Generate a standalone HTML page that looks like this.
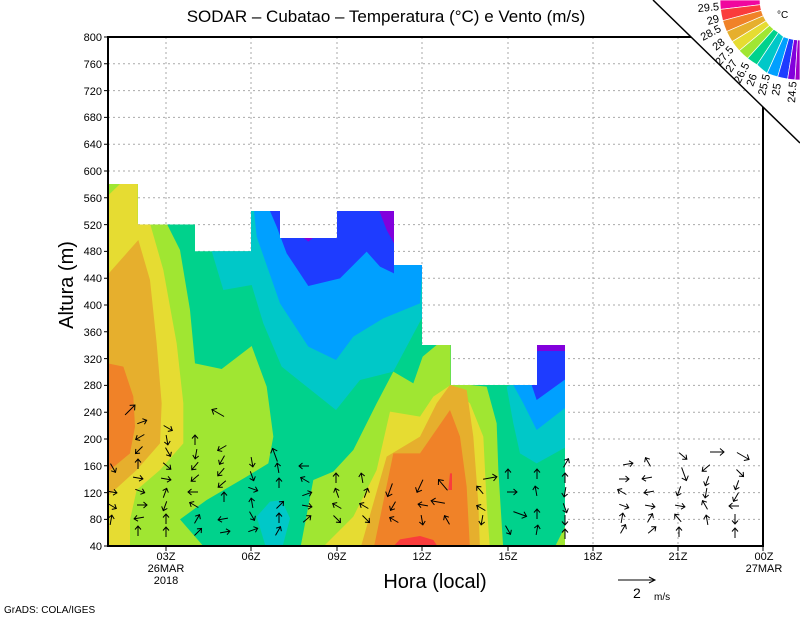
<!DOCTYPE html>
<html><head><meta charset="utf-8"><style>
html,body{margin:0;padding:0;background:#fff}
svg{display:block}
text{font-family:"Liberation Sans",sans-serif}
</style></head><body>
<svg width="800" height="618" viewBox="0 0 800 618" xmlns="http://www.w3.org/2000/svg">
<defs>
<clipPath id="data"><path d="M109,184 H138 V224.5 H195 V251.3 H251 V211 H280 V238 H337 V211 H394 V265 H422 V345 H451 V385 H537 V345 H565 V546 H109 Z"/></clipPath>
<g id="a"><path d="M-5,0 H5 M1.5,-3 L5,0 L1.5,3" fill="none" stroke="#000" stroke-width="1"/></g>
<g id="b"><path d="M-7,0 H7 M3,-3.5 L7,0 L3,3.5" fill="none" stroke="#000" stroke-width="1"/></g>
</defs>

<!-- grid -->
<g stroke="#aaa" stroke-width="1" stroke-dasharray="2,3">
<path d="M108,63.8H763M108,90.6H763M108,117.4H763M108,144.2H763M108,171H763M108,197.8H763M108,224.6H763M108,251.4H763M108,278.2H763M108,305H763M108,331.8H763M108,358.6H763M108,385.4H763M108,412.2H763M108,439H763M108,465.8H763M108,492.6H763M108,519.4H763"/>
<path d="M166,37V546M251,37V546M337,37V546M422,37V546M508,37V546M593,37V546M678,37V546"/>
</g>

<!-- shaded field -->
<g clip-path="url(#data)">
<rect x="100" y="170" width="480" height="380" fill="#00d28c"/>
<g transform="translate(100,170) scale(0.33333)">
<!-- yellow-green left -->
<polygon fill="#a0e632" points="0,0 200,0 200,160 240,240 270,420 285,580 365,597 455,528 500,650 520,800 505,880 440,920 320,990 240,1048 320,1140 0,1140"/>
<!-- yellow-green middle-right -->
<polygon fill="#a0e632" points="600,1140 640,930 700,905 760,840 830,700 880,605 940,640 968,560 1010,525 1052,525 1052,645 1110,645 1160,650 1190,760 1195,900 1210,1140"/>
<polygon fill="#a0e632" points="1360,1140 1400,1060 1400,1140"/>
<!-- yellow left -->
<polygon fill="#e6dc32" points="0,100 60,42 113,42 113,160 150,160 190,300 230,520 250,700 250,820 180,900 110,960 90,1050 90,1140 0,1140"/>
<!-- light orange left -->
<polygon fill="#e6af2d" points="0,340 115,210 150,330 170,520 185,700 180,820 110,900 0,1000"/>
<!-- orange left -->
<polygon fill="#f08228" points="0,575 70,590 100,680 105,770 90,850 30,900 0,910"/>
<!-- yellow mid-right -->
<polygon fill="#e6dc32" points="660,1140 760,1040 830,900 870,725 960,740 1000,680 1052,645 1110,700 1150,800 1160,1000 1170,1140"/>
<polygon fill="#e6af2d" points="780,1140 860,860 960,800 1010,700 1050,645 1100,660 1120,800 1135,1000 1140,1140"/>
<polygon fill="#f08228" points="820,1140 880,850 960,850 1050,720 1080,800 1100,950 1110,1140"/>
<polygon fill="#fa3c3c" points="870,1140 900,1108 960,1098 1000,1110 1020,1140"/>
<polygon fill="#fa3c3c" points="1045,960 1050,910 1056,910 1056,960"/>
<!-- cyan pocket bottom -->
<polygon fill="#00c8c8" points="470,1040 510,995 545,990 570,1045 545,1140 500,1140"/>
<!-- cool top middle -->
<polygon fill="#00c8c8" points="335,243 453,243 453,123 882,123 882,285 968,285 968,440 880,605 780,630 708,720 620,650 545,590 490,460 455,345 370,360"/>
<polygon fill="#00a0ff" points="462,123 882,123 882,285 968,285 960,400 850,445 760,500 708,570 625,530 540,400 470,200"/>
<polygon fill="#1e3cff" points="510,123 540,123 540,203 708,203 708,123 882,123 882,310 840,290 800,245 720,325 625,348 560,250 530,170"/>
<polygon fill="#8200dc" points="838,123 882,123 882,220 860,180"/>
<polygon fill="#8200dc" points="610,203 640,203 625,215"/>
<!-- right column -->
<polygon fill="#00c8c8" points="1230,645 1308,645 1308,525 1400,525 1400,830 1310,880 1260,850 1240,760 1220,650"/>
<polygon fill="#00a0ff" points="1240,645 1308,645 1308,525 1400,525 1400,710 1310,780 1270,700"/>
<polygon fill="#1e3cff" points="1295,645 1308,645 1308,525 1400,525 1400,625 1310,690"/>
<polygon fill="#8200dc" points="1308,525 1400,525 1400,543 1308,543"/>
</g>
</g>

<!-- wind arrows -->
<g>
<use href="#b" transform="translate(130,410) rotate(-45)"/>
<use href="#a" transform="translate(142,422) rotate(-20)"/>
<use href="#a" transform="translate(140,437) rotate(150)"/>
<use href="#a" transform="translate(139,450) rotate(135)"/>
<use href="#a" transform="translate(138,464) rotate(-90)"/>
<use href="#a" transform="translate(138,478) rotate(10)"/>
<use href="#a" transform="translate(140,491) rotate(20)"/>
<use href="#a" transform="translate(142,505) rotate(0)"/>
<use href="#a" transform="translate(139,518) rotate(170)"/>
<use href="#a" transform="translate(138,531) rotate(-90)"/>
<use href="#a" transform="translate(113,468) rotate(60)"/>
<use href="#a" transform="translate(112,492) rotate(10)"/>
<use href="#a" transform="translate(112,506) rotate(30)"/>
<use href="#a" transform="translate(111,520) rotate(-80)"/>
<use href="#a" transform="translate(168,428) rotate(30)"/>
<use href="#a" transform="translate(167,440) rotate(80)"/>
<use href="#a" transform="translate(168,452) rotate(60)"/>
<use href="#a" transform="translate(167,466) rotate(40)"/>
<use href="#a" transform="translate(166,479) rotate(10)"/>
<use href="#a" transform="translate(165,493) rotate(-70)"/>
<use href="#a" transform="translate(165,506) rotate(110)"/>
<use href="#a" transform="translate(166,519) rotate(-90)"/>
<use href="#a" transform="translate(166,532) rotate(-90)"/>
<use href="#b" transform="translate(218,413) rotate(-150)"/>
<use href="#a" transform="translate(195,440) rotate(-90)"/>
<use href="#a" transform="translate(222,448) rotate(150)"/>
<use href="#a" transform="translate(196,454) rotate(100)"/>
<use href="#a" transform="translate(195,466) rotate(130)"/>
<use href="#a" transform="translate(195,478) rotate(140)"/>
<use href="#a" transform="translate(193,492) rotate(180)"/>
<use href="#a" transform="translate(194,505) rotate(-150)"/>
<use href="#a" transform="translate(197,519) rotate(-60)"/>
<use href="#a" transform="translate(198,532) rotate(-45)"/>
<use href="#a" transform="translate(222,460) rotate(120)"/>
<use href="#a" transform="translate(221,472) rotate(130)"/>
<use href="#a" transform="translate(222,484) rotate(140)"/>
<use href="#a" transform="translate(224,497) rotate(-90)"/>
<use href="#a" transform="translate(223,519) rotate(170)"/>
<use href="#a" transform="translate(225,532) rotate(-10)"/>
<use href="#a" transform="translate(252,462) rotate(80)"/>
<use href="#a" transform="translate(252,476) rotate(70)"/>
<use href="#a" transform="translate(253,489) rotate(20)"/>
<use href="#a" transform="translate(252,503) rotate(-100)"/>
<use href="#a" transform="translate(252,516) rotate(60)"/>
<use href="#a" transform="translate(253,530) rotate(-20)"/>
<use href="#b" transform="translate(275,455) rotate(-110)"/>
<use href="#a" transform="translate(278,468) rotate(-100)"/>
<use href="#a" transform="translate(279,483) rotate(-90)"/>
<use href="#a" transform="translate(280,505) rotate(-45)"/>
<use href="#a" transform="translate(279,518) rotate(-90)"/>
<use href="#a" transform="translate(278,531) rotate(-60)"/>
<use href="#a" transform="translate(304,466) rotate(180)"/>
<use href="#a" transform="translate(305,480) rotate(-150)"/>
<use href="#a" transform="translate(307,494) rotate(-20)"/>
<use href="#a" transform="translate(307,506) rotate(10)"/>
<use href="#a" transform="translate(307,519) rotate(-40)"/>
<use href="#a" transform="translate(336,478) rotate(-90)"/>
<use href="#a" transform="translate(337,493) rotate(-110)"/>
<use href="#a" transform="translate(337,506) rotate(-150)"/>
<use href="#a" transform="translate(337,519) rotate(45)"/>
<use href="#a" transform="translate(362,478) rotate(-100)"/>
<use href="#a" transform="translate(366,493) rotate(-70)"/>
<use href="#a" transform="translate(364,506) rotate(-150)"/>
<use href="#a" transform="translate(366,519) rotate(45)"/>
<use href="#b" transform="translate(390,490) rotate(110)"/>
<use href="#a" transform="translate(393,506) rotate(120)"/>
<use href="#a" transform="translate(394,520) rotate(-150)"/>
<use href="#b" transform="translate(420,486) rotate(115)"/>
<use href="#a" transform="translate(423,505) rotate(-170)"/>
<use href="#a" transform="translate(422,520) rotate(80)"/>
<use href="#b" transform="translate(443,485) rotate(-130)"/>
<use href="#b" transform="translate(438,502) rotate(-170)"/>
<use href="#a" transform="translate(447,520) rotate(-120)"/>
<use href="#b" transform="translate(490,478) rotate(-10)"/>
<use href="#a" transform="translate(480,490) rotate(-130)"/>
<use href="#a" transform="translate(481,508) rotate(-150)"/>
<use href="#a" transform="translate(482,520) rotate(100)"/>
<use href="#a" transform="translate(508,474) rotate(-90)"/>
<use href="#a" transform="translate(512,492) rotate(0)"/>
<use href="#b" transform="translate(520,514) rotate(20)"/>
<use href="#a" transform="translate(508,530) rotate(60)"/>
<use href="#a" transform="translate(537,474) rotate(-90)"/>
<use href="#a" transform="translate(536,491) rotate(-100)"/>
<use href="#a" transform="translate(537,514) rotate(-90)"/>
<use href="#a" transform="translate(537,530) rotate(-80)"/>
<use href="#a" transform="translate(566,463) rotate(-60)"/>
<use href="#a" transform="translate(565,478) rotate(-90)"/>
<use href="#a" transform="translate(565,492) rotate(100)"/>
<use href="#a" transform="translate(565,508) rotate(70)"/>
<use href="#a" transform="translate(565,520) rotate(90)"/>
<use href="#a" transform="translate(565,534) rotate(-90)"/>
<use href="#a" transform="translate(628,464) rotate(-10)"/>
<use href="#a" transform="translate(624,479) rotate(0)"/>
<use href="#a" transform="translate(622,492) rotate(-150)"/>
<use href="#a" transform="translate(624,506) rotate(20)"/>
<use href="#a" transform="translate(622,518) rotate(-80)"/>
<use href="#a" transform="translate(623,529) rotate(-60)"/>
<use href="#a" transform="translate(648,462) rotate(-120)"/>
<use href="#a" transform="translate(647,478) rotate(170)"/>
<use href="#a" transform="translate(649,492) rotate(170)"/>
<use href="#a" transform="translate(650,506) rotate(10)"/>
<use href="#a" transform="translate(650,518) rotate(-60)"/>
<use href="#a" transform="translate(652,530) rotate(-40)"/>
<use href="#a" transform="translate(683,456) rotate(40)"/>
<use href="#b" transform="translate(684,474) rotate(70)"/>
<use href="#a" transform="translate(679,491) rotate(110)"/>
<use href="#a" transform="translate(680,506) rotate(10)"/>
<use href="#a" transform="translate(678,518) rotate(-130)"/>
<use href="#a" transform="translate(679,532) rotate(-90)"/>
<use href="#b" transform="translate(717,452) rotate(0)"/>
<use href="#a" transform="translate(706,468) rotate(140)"/>
<use href="#a" transform="translate(707,481) rotate(110)"/>
<use href="#a" transform="translate(706,493) rotate(100)"/>
<use href="#a" transform="translate(705,505) rotate(-120)"/>
<use href="#a" transform="translate(707,520) rotate(-100)"/>
<use href="#b" transform="translate(743,456) rotate(30)"/>
<use href="#a" transform="translate(740,473) rotate(45)"/>
<use href="#a" transform="translate(737,485) rotate(110)"/>
<use href="#a" transform="translate(736,497) rotate(120)"/>
<use href="#a" transform="translate(734,506) rotate(180)"/>
<use href="#a" transform="translate(735,519) rotate(90)"/>
<use href="#a" transform="translate(735,533) rotate(-90)"/>
</g>

<!-- frame -->
<path d="M108,37 H763 V546 H108 Z" fill="none" stroke="#000" stroke-width="2"/>
<!-- ticks -->
<g stroke="#000" stroke-width="1">
<path d="M104,37H108M104,63.8H108M104,90.6H108M104,117.4H108M104,144.2H108M104,171H108M104,197.8H108M104,224.6H108M104,251.4H108M104,278.2H108M104,305H108M104,331.8H108M104,358.6H108M104,385.4H108M104,412.2H108M104,439H108M104,465.8H108M104,492.6H108M104,519.4H108M104,546H108"/>
<path d="M166,546V551M251,546V551M337,546V551M422,546V551M508,546V551M593,546V551M678,546V551M763,546V551"/>
</g>
<g font-size="11" text-anchor="end" fill="#000">
<text x="102" y="41">800</text><text x="102" y="68">760</text><text x="102" y="95">720</text><text x="102" y="121">680</text><text x="102" y="148">640</text><text x="102" y="175">600</text><text x="102" y="202">560</text><text x="102" y="229">520</text><text x="102" y="255">480</text><text x="102" y="282">440</text><text x="102" y="309">400</text><text x="102" y="336">360</text><text x="102" y="363">320</text><text x="102" y="389">280</text><text x="102" y="416">240</text><text x="102" y="443">200</text><text x="102" y="470">160</text><text x="102" y="497">120</text><text x="102" y="523">80</text><text x="102" y="550">40</text>
</g>
<g font-size="11" text-anchor="middle" fill="#000">
<text x="166" y="560">03Z</text><text x="166" y="572">26MAR</text><text x="166" y="584">2018</text>
<text x="251" y="560">06Z</text><text x="337" y="560">09Z</text><text x="422" y="560">12Z</text><text x="508" y="560">15Z</text><text x="593" y="560">18Z</text><text x="678" y="560">21Z</text>
<text x="764" y="560">00Z</text><text x="764" y="572">27MAR</text>
</g>
<text x="435" y="588" font-size="20" text-anchor="middle">Hora (local)</text>
<text transform="translate(73,285) rotate(-90)" font-size="20" text-anchor="middle">Altura (m)</text>
<text x="386" y="22" font-size="17" text-anchor="middle">SODAR – Cubatao – Temperatura (°C) e Vento (m/s)</text>
<text x="4" y="613" font-size="10">GrADS: COLA/IGES</text>
<!-- reference vector -->
<path d="M618,580 H655 M649,577 L655,580 L649,583" fill="none" stroke="#000"/>
<text x="633" y="598" font-size="14">2</text><text x="654" y="600" font-size="10">m/s</text>

<!-- corner colorbar -->
<polygon points="653,0 800,0 800,143" fill="#fff"/>
<line x1="653" y1="0" x2="800" y2="143" stroke="#000" stroke-width="1.5"/>
<g stroke="#fff" stroke-width="0.7">
<path d="M720,0 A80,80 0 0 0 720.55,9.40 L760.27,4.70 A40,40 0 0 1 760,0 Z" fill="#f0069e"/>
<path d="M720.55,9.40 A80,80 0 0 0 722.70,20.71 L761.35,10.35 A40,40 0 0 1 760.27,4.70 Z" fill="#fa3c3c"/>
<path d="M722.70,20.71 A80,80 0 0 0 726.59,31.54 L763.29,15.77 A40,40 0 0 1 761.35,10.35 Z" fill="#f08228"/>
<path d="M726.59,31.54 A80,80 0 0 0 732.16,41.64 L766.08,20.82 A40,40 0 0 1 763.29,15.77 Z" fill="#e6af2d"/>
<path d="M732.16,41.64 A80,80 0 0 0 739.24,50.74 L769.62,25.37 A40,40 0 0 1 766.08,20.82 Z" fill="#e6dc32"/>
<path d="M739.24,50.74 A80,80 0 0 0 747.56,58.45 L773.78,29.23 A40,40 0 0 1 769.62,25.37 Z" fill="#a0e632"/>
<path d="M747.56,58.45 A80,80 0 0 0 756.99,64.81 L778.50,32.41 A40,40 0 0 1 773.78,29.23 Z" fill="#00d28c"/>
<path d="M756.99,64.81 A80,80 0 0 0 767.10,73.33 L783.55,36.67 A40,40 0 0 1 778.50,32.41 Z" fill="#00c8c8"/>
<path d="M767.10,73.33 A80,80 0 0 0 777.70,76.84 L788.85,38.42 A40,40 0 0 1 783.55,36.67 Z" fill="#00a0ff"/>
<path d="M777.70,76.84 A80,80 0 0 0 787.60,79.03 L793.80,39.52 A40,40 0 0 1 788.85,38.42 Z" fill="#1e3cff"/>
<path d="M787.60,79.03 A80,80 0 0 0 795,79.84 L797.5,39.92 A40,40 0 0 1 793.80,39.52 Z" fill="#8200dc"/>
<path d="M795,79.84 A80,80 0 0 0 800,80 L800,40 A40,40 0 0 1 797.5,39.92 Z" fill="#a000c8"/>
</g>
<text x="777" y="18" font-size="10">°C</text>
<g font-size="11" fill="#000">
<text transform="translate(698,12) rotate(-5)">29.5</text>
<text transform="translate(708,25) rotate(-15)">29</text>
<text transform="translate(703,41) rotate(-28)">28.5</text>
<text transform="translate(716,51) rotate(-38)">28</text>
<text transform="translate(720,66) rotate(-48)">27.5</text>
<text transform="translate(731,73) rotate(-56)">27</text>
<text transform="translate(740,84) rotate(-63)">26.5</text>
<text transform="translate(753,87) rotate(-70)">26</text>
<text transform="translate(765,96) rotate(-76)">25.5</text>
<text transform="translate(779,96) rotate(-81)">25</text>
<text transform="translate(795,103) rotate(-86)">24.5</text>
</g>
</svg>
</body></html>
